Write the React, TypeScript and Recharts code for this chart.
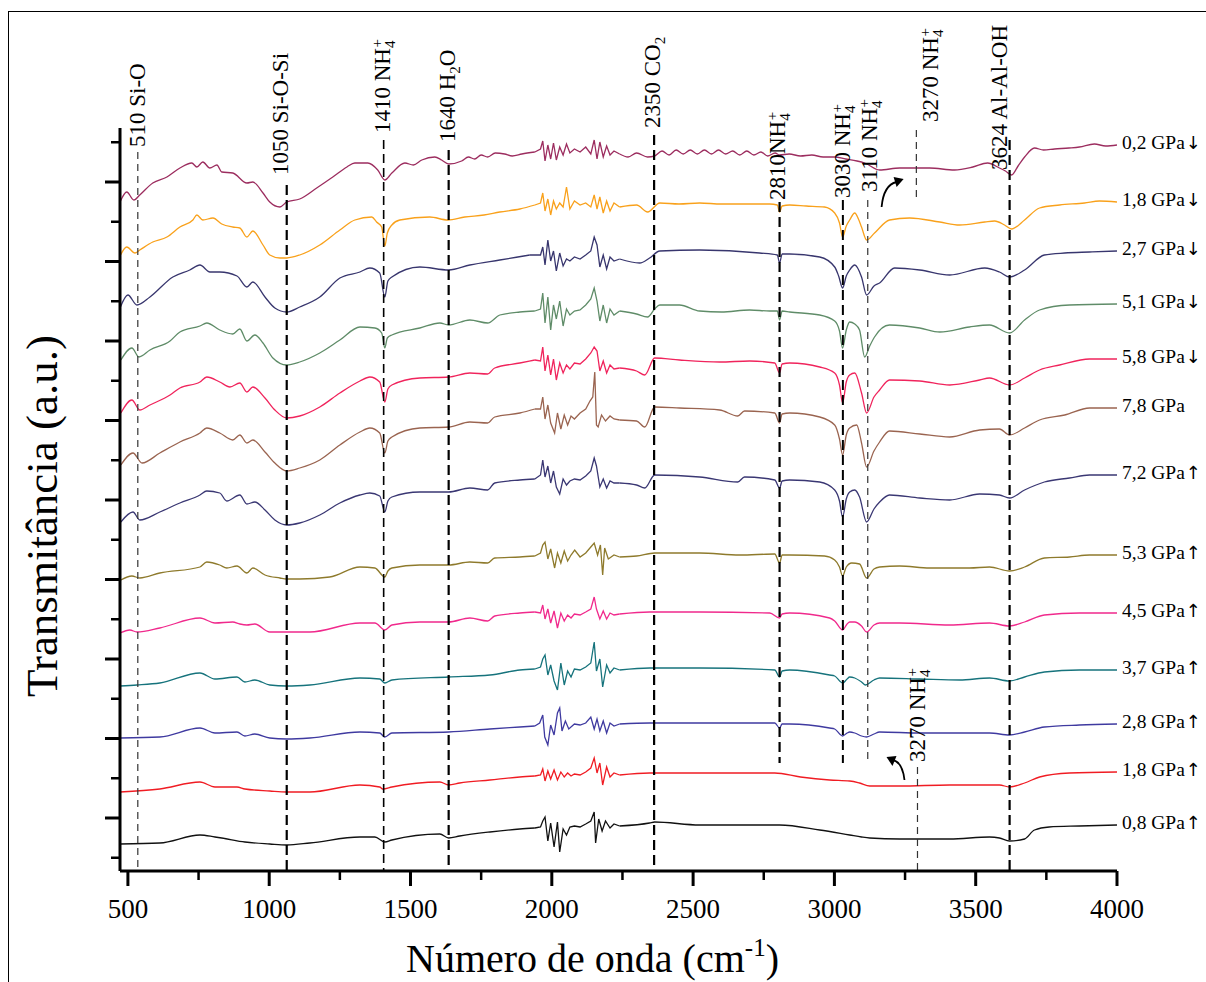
import React from 'react';
import { LineChart, Line, XAxis, YAxis, ReferenceLine, ReferenceDot } from 'recharts';

const FONT = 'Liberation Serif, Times New Roman, serif';

// [wavenumber cm-1, transmittance a.u. (stacked)]
const p02Down = [
  [472, 669], [496, 679], [521, 671], [542, 676], [588, 688], [638, 694], [684, 703], [726, 708], [744, 704], [765, 709],
  [790, 703], [815, 706], [832, 699], [871, 698], [921, 688], [942, 689], [978, 678], [1002, 669], [1038, 664], [1062, 669],
  [1108, 672], [1168, 683], [1225, 694], [1275, 704], [1303, 708], [1349, 708], [1384, 701], [1409, 691], [1434, 698], [1480, 708],
  [1510, 706], [1540, 711], [1586, 714], [1610, 711], [1635, 707], [1681, 710], [1705, 714], [1727, 712], [1750, 716], [1773, 714],
  [1800, 718], [1833, 717], [1860, 715], [1894, 717], [1940, 719],
  [1960, 722], [1968, 730], [1976, 710], [1986, 726], [1996, 712], [2006, 728], [2016, 711], [2028, 724], [2040, 716], [2052, 727],
  [2064, 718], [2080, 722], [2100, 719], [2120, 724], [2138, 717], [2150, 731], [2160, 712], [2170, 729], [2182, 714], [2194, 725],
  [2206, 716], [2220, 720],
  [2240, 717], [2270, 714], [2300, 718], [2339, 714], [2364, 715], [2390, 720], [2415, 716], [2440, 721], [2465, 717], [2490, 721],
  [2515, 717], [2540, 721], [2565, 717], [2590, 721], [2615, 717], [2640, 720], [2665, 716], [2690, 720], [2715, 716], [2740, 719],
  [2764, 715], [2790, 718], [2806, 716], [2840, 717], [2880, 715], [2920, 716], [2960, 714], [3000, 714], [3040, 712], [3080, 710],
  [3107, 708], [3160, 701], [3231, 703], [3290, 703], [3337, 703], [3425, 701], [3490, 704], [3542, 708], [3584, 703], [3605, 700],
  [3627, 696], [3650, 705], [3673, 714], [3708, 723], [3740, 721], [3779, 722], [3830, 723], [3867, 724], [3920, 727], [3960, 725],
  [4000, 726],
];

const p18Down = [
  [472, 615], [496, 624], [525, 618], [542, 621], [588, 629], [638, 634], [684, 644], [730, 651], [744, 656], [765, 651],
  [801, 653], [832, 647], [871, 644], [896, 643], [921, 634], [942, 640], [978, 626], [1002, 616], [1038, 613], [1062, 613],
  [1108, 616], [1179, 626], [1250, 641], [1303, 651], [1363, 654], [1380, 649], [1398, 644], [1409, 625], [1418, 638], [1434, 646],
  [1462, 651], [1568, 654], [1632, 651], [1692, 654], [1760, 656], [1816, 659], [1887, 662], [1940, 666],
  [1960, 668], [1968, 678], [1976, 660], [1986, 672], [1996, 656], [2006, 670], [2016, 662], [2028, 668], [2040, 664], [2052, 684],
  [2064, 662], [2080, 670], [2100, 666], [2120, 668], [2138, 664], [2150, 676], [2160, 662], [2170, 674], [2182, 658], [2194, 670],
  [2206, 660], [2220, 668],
  [2240, 664], [2300, 666], [2339, 659], [2382, 668], [2450, 667], [2523, 668], [2600, 667], [2700, 667], [2771, 667], [2798, 666],
  [2806, 659], [2815, 665], [2842, 666], [2900, 665], [2965, 664], [3001, 658], [3018, 648], [3029, 634], [3042, 645], [3054, 651],
  [3072, 658], [3085, 652], [3096, 644], [3114, 631], [3142, 638], [3195, 651], [3266, 653], [3373, 649], [3443, 646], [3532, 649],
  [3567, 650], [3602, 646], [3627, 642], [3673, 651], [3726, 663], [3797, 666], [3885, 668], [3938, 670], [4000, 669],
];

const p27Down = [
  [472, 563], [500, 576], [532, 566], [578, 574], [659, 594], [719, 601], [755, 606], [790, 599], [825, 599], [886, 595],
  [921, 584], [942, 589], [985, 574], [1020, 563], [1062, 559], [1108, 564], [1179, 574], [1250, 593], [1321, 599], [1356, 603],
  [1391, 598], [1409, 574], [1420, 590], [1434, 594], [1533, 604], [1635, 601], [1710, 606], [1816, 611], [1922, 616],
  [1960, 616], [1968, 624], [1976, 606], [1986, 631], [1996, 610], [2006, 620], [2016, 600], [2028, 618], [2040, 605], [2052, 612],
  [2064, 610], [2080, 614], [2100, 612], [2120, 616], [2138, 620], [2150, 634], [2160, 626], [2170, 604], [2182, 616], [2194, 602],
  [2206, 614], [2220, 610],
  [2240, 612], [2311, 608], [2346, 613], [2382, 620], [2523, 621], [2735, 618], [2798, 616], [2806, 608], [2815, 617], [2842, 617],
  [2948, 614], [3001, 604], [3015, 595], [3029, 583], [3042, 595], [3054, 601], [3072, 606], [3096, 594], [3114, 576], [3140, 585],
  [3160, 588], [3213, 603], [3302, 601], [3408, 596], [3532, 603], [3584, 599], [3620, 594], [3673, 601], [3743, 616], [3815, 618],
  [3903, 619], [4000, 620],
];

const p51Down = [
  [475, 511], [514, 523], [539, 514], [578, 521], [649, 530], [684, 539], [755, 545], [779, 548], [825, 541], [871, 537],
  [896, 542], [921, 530], [949, 536], [978, 528], [1013, 513], [1062, 506], [1108, 509], [1179, 518], [1250, 531], [1321, 544],
  [1374, 543], [1398, 538], [1409, 523], [1418, 533], [1434, 536], [1533, 543], [1604, 548], [1635, 546], [1710, 551], [1773, 548],
  [1816, 556], [1887, 559], [1940, 560],
  [1960, 562], [1968, 578], [1976, 548], [1986, 574], [1996, 541], [2006, 566], [2016, 552], [2028, 570], [2040, 545], [2052, 562],
  [2064, 556], [2080, 560], [2100, 561], [2120, 566], [2138, 572], [2150, 583], [2160, 570], [2170, 550], [2182, 566], [2194, 548],
  [2206, 562], [2220, 556],
  [2240, 560], [2300, 557], [2339, 554], [2364, 562], [2382, 566], [2452, 566], [2523, 560], [2600, 559], [2700, 561], [2771, 560],
  [2798, 560], [2806, 551], [2815, 560], [2842, 559], [2948, 556], [3001, 550], [3018, 540], [3029, 523], [3042, 541], [3054, 549],
  [3072, 547], [3089, 541], [3107, 514], [3125, 525], [3142, 534], [3195, 546], [3302, 543], [3373, 539], [3478, 544], [3549, 546],
  [3620, 538], [3673, 551], [3726, 561], [3832, 566], [4000, 567],
];

const p58Down = [
  [475, 458], [514, 471], [542, 461], [578, 466], [649, 476], [684, 483], [755, 489], [779, 494], [825, 489], [861, 484],
  [896, 488], [921, 479], [942, 484], [985, 473], [1020, 461], [1062, 453], [1108, 455], [1179, 464], [1250, 478], [1321, 490],
  [1356, 494], [1391, 489], [1409, 469], [1420, 482], [1434, 486], [1533, 493], [1635, 494], [1710, 498], [1773, 497], [1798, 503],
  [1887, 508], [1940, 511],
  [1960, 510], [1968, 524], [1976, 500], [1986, 516], [1996, 496], [2006, 512], [2016, 491], [2028, 508], [2040, 498], [2052, 506],
  [2064, 502], [2080, 508], [2100, 507], [2120, 512], [2138, 518], [2150, 524], [2160, 520], [2170, 500], [2182, 510], [2194, 498],
  [2206, 506], [2220, 502],
  [2240, 503], [2300, 500], [2329, 496], [2364, 513], [2452, 511], [2594, 509], [2700, 510], [2789, 508], [2806, 498], [2815, 507],
  [2842, 508], [2948, 504], [3001, 498], [3018, 486], [3029, 468], [3042, 489], [3054, 496], [3072, 498], [3096, 478], [3114, 458],
  [3140, 474], [3160, 481], [3195, 491], [3302, 490], [3408, 486], [3514, 491], [3549, 493], [3620, 486], [3673, 493], [3726, 501],
  [3797, 506], [3903, 512], [4000, 512],
];

const p78 = [
  [475, 406], [518, 418], [550, 408], [613, 418], [684, 429], [755, 438], [779, 443], [825, 438], [871, 431], [896, 436],
  [921, 428], [942, 431], [985, 419], [1020, 408], [1062, 400], [1108, 403], [1179, 411], [1250, 426], [1321, 439], [1356, 443],
  [1391, 438], [1409, 418], [1420, 430], [1434, 434], [1533, 443], [1635, 444], [1710, 449], [1773, 448], [1798, 454], [1887, 458],
  [1940, 462],
  [1960, 462], [1968, 474], [1976, 452], [1986, 466], [1996, 448], [2010, 438], [2020, 458], [2032, 442], [2044, 456], [2056, 446],
  [2068, 455], [2080, 452], [2100, 458], [2120, 462], [2135, 470], [2145, 474], [2152, 499], [2158, 446], [2164, 444], [2176, 456],
  [2190, 450], [2206, 455], [2220, 452],
  [2240, 451], [2300, 450], [2329, 444], [2364, 464], [2452, 463], [2594, 461], [2658, 455], [2682, 460], [2789, 458], [2806, 448],
  [2815, 457], [2842, 458], [2948, 454], [3001, 446], [3018, 432], [3029, 416], [3042, 436], [3054, 443], [3079, 446], [3096, 428],
  [3114, 404], [3140, 420], [3160, 429], [3195, 440], [3302, 437], [3408, 434], [3514, 441], [3584, 442], [3620, 436], [3673, 443],
  [3726, 451], [3815, 456], [3903, 463], [4000, 463],
];

const p72Up = [
  [475, 349], [518, 359], [542, 351], [613, 359], [684, 368], [755, 376], [779, 380], [825, 378], [850, 370], [896, 376],
  [921, 367], [949, 369], [985, 361], [1020, 351], [1062, 346], [1108, 348], [1179, 356], [1250, 368], [1321, 376], [1356, 378],
  [1391, 375], [1409, 359], [1420, 370], [1434, 374], [1533, 379], [1635, 379], [1710, 383], [1773, 381], [1798, 388], [1887, 391],
  [1940, 392],
  [1960, 396], [1968, 411], [1976, 394], [1986, 405], [1996, 388], [2006, 400], [2016, 384], [2028, 377], [2040, 392], [2052, 386],
  [2064, 390], [2080, 392], [2100, 391], [2120, 395], [2138, 400], [2150, 413], [2158, 405], [2170, 384], [2182, 392], [2194, 383],
  [2206, 390], [2220, 388],
  [2240, 388], [2300, 386], [2329, 383], [2364, 396], [2523, 394], [2658, 389], [2682, 394], [2789, 391], [2806, 383], [2815, 390],
  [2842, 391], [2948, 389], [3001, 381], [3018, 370], [3029, 354], [3042, 372], [3054, 379], [3072, 381], [3089, 374], [3114, 349],
  [3140, 362], [3160, 369], [3195, 376], [3302, 373], [3408, 371], [3514, 377], [3584, 376], [3620, 373], [3673, 381], [3743, 389],
  [3832, 393], [3903, 396], [4000, 396],
];

const p53Up = [
  [475, 291], [514, 295], [542, 293], [613, 298], [755, 304], [779, 309], [825, 306], [850, 303], [886, 305], [921, 298],
  [942, 303], [985, 296], [1038, 293], [1062, 292], [1108, 292], [1214, 294], [1321, 304], [1374, 303], [1409, 294], [1420, 300],
  [1434, 303], [1533, 306], [1635, 306], [1710, 309], [1773, 308], [1798, 313], [1887, 314], [1940, 315],
  [1960, 318], [1968, 326], [1976, 329], [1986, 312], [1996, 322], [2010, 303], [2020, 318], [2032, 308], [2044, 320], [2056, 310],
  [2068, 316], [2081, 321], [2100, 314], [2120, 318], [2138, 324], [2150, 328], [2162, 316], [2172, 326], [2180, 296], [2187, 323],
  [2200, 312], [2220, 316],
  [2240, 314], [2300, 315], [2364, 318], [2523, 318], [2665, 316], [2789, 317], [2806, 308], [2815, 316], [2842, 316], [2965, 315],
  [3001, 311], [3018, 304], [3029, 295], [3042, 304], [3061, 308], [3089, 307], [3114, 293], [3140, 302], [3160, 304], [3231, 305],
  [3337, 303], [3478, 303], [3549, 304], [3620, 300], [3673, 304], [3743, 313], [3832, 314], [3903, 316], [4000, 316],
];

const p45Up = [
  [472, 238], [507, 241], [532, 239], [613, 243], [755, 253], [808, 248], [871, 249], [896, 247], [921, 246], [949, 247],
  [1002, 239], [1062, 239], [1144, 239], [1321, 248], [1374, 248], [1409, 241], [1434, 246], [1533, 249], [1635, 249], [1710, 253],
  [1773, 250], [1798, 255], [1887, 258], [1940, 259],
  [1960, 258], [1968, 266], [1976, 252], [1986, 262], [1996, 248], [2008, 260], [2020, 243], [2032, 258], [2044, 250], [2056, 256],
  [2068, 253], [2080, 257], [2100, 256], [2120, 259], [2138, 262], [2150, 274], [2158, 262], [2170, 252], [2182, 260], [2194, 252],
  [2206, 258], [2220, 256],
  [2240, 257], [2346, 259], [2523, 259], [2771, 258], [2806, 253], [2815, 257], [2842, 258], [2983, 253], [3001, 250], [3029, 241],
  [3045, 247], [3054, 249], [3072, 249], [3096, 245], [3114, 239], [3140, 246], [3160, 248], [3231, 248], [3408, 246], [3549, 248],
  [3620, 245], [3673, 249], [3743, 256], [3867, 258], [4000, 258],
];

const p37Up = [
  [472, 185], [532, 186], [613, 188], [755, 198], [808, 192], [886, 194], [914, 189], [949, 191], [1002, 186], [1062, 185],
  [1144, 186], [1321, 193], [1391, 192], [1409, 188], [1434, 191], [1635, 194], [1781, 196], [1887, 201], [1940, 202],
  [1960, 204], [1968, 212], [1976, 216], [1986, 196], [1996, 206], [2008, 190], [2020, 181], [2032, 208], [2044, 186], [2056, 200],
  [2068, 194], [2080, 202], [2100, 201], [2120, 204], [2138, 208], [2150, 229], [2158, 200], [2170, 212], [2180, 184], [2194, 206],
  [2206, 198], [2220, 203],
  [2240, 201], [2346, 203], [2523, 203], [2789, 201], [2806, 194], [2815, 200], [2842, 201], [2983, 196], [3001, 195], [3029, 188],
  [3045, 192], [3054, 194], [3072, 193], [3096, 189], [3110, 186], [3140, 191], [3160, 193], [3302, 192], [3443, 191], [3549, 193],
  [3620, 190], [3673, 194], [3743, 199], [3867, 201], [4000, 201],
];

const p28Up = [
  [472, 133], [613, 134], [755, 143], [808, 138], [886, 139], [914, 135], [949, 137], [1002, 133], [1062, 132], [1144, 133],
  [1321, 139], [1391, 138], [1409, 134], [1434, 138], [1635, 139], [1781, 142], [1887, 144], [1940, 145],
  [1957, 148], [1968, 156], [1975, 134], [1986, 126], [1996, 146], [2008, 136], [2020, 158], [2028, 163], [2036, 140], [2048, 150],
  [2060, 142], [2080, 147], [2100, 146], [2120, 148], [2138, 154], [2150, 142], [2160, 152], [2170, 140], [2182, 150], [2194, 138],
  [2206, 148], [2220, 145],
  [2240, 147], [2346, 148], [2523, 148], [2789, 148], [2806, 143], [2815, 147], [2842, 147], [2983, 143], [3001, 142], [3029, 135],
  [3045, 138], [3054, 139], [3072, 138], [3096, 135], [3114, 134], [3140, 137], [3160, 139], [3302, 138], [3443, 138], [3549, 138],
  [3620, 136], [3673, 139], [3743, 144], [3867, 146], [4000, 147],
];

const p18Up = [
  [472, 79], [613, 82], [755, 89], [808, 84], [886, 84], [914, 82], [1002, 80], [1062, 79], [1144, 79], [1321, 86],
  [1391, 84], [1402, 82], [1434, 84], [1604, 89], [1635, 86], [1674, 88], [1781, 91], [1887, 94], [1940, 95],
  [1960, 96], [1968, 102], [1976, 90], [1986, 100], [1996, 92], [2008, 101], [2020, 91], [2032, 99], [2044, 94], [2056, 98],
  [2068, 95], [2080, 97], [2100, 96], [2120, 99], [2138, 103], [2150, 113], [2160, 98], [2170, 108], [2180, 86], [2194, 104],
  [2206, 94], [2220, 98],
  [2240, 96], [2346, 98], [2523, 98], [2789, 98], [2880, 94], [2983, 91], [3054, 90], [3089, 88], [3125, 85], [3231, 85],
  [3408, 86], [3584, 86], [3620, 84], [3673, 88], [3726, 94], [3832, 98], [4000, 99],
];

const p08Up = [
  [472, 27], [613, 28], [755, 36], [808, 34], [832, 33], [914, 29], [1002, 27], [1062, 26], [1144, 28], [1321, 34],
  [1374, 34], [1409, 29], [1434, 31], [1604, 37], [1635, 33], [1674, 35], [1781, 39], [1887, 42], [1940, 43],
  [1960, 44], [1968, 50], [1976, 54], [1986, 30], [1996, 48], [2008, 24], [2020, 49], [2028, 19], [2040, 42], [2052, 36],
  [2064, 44], [2080, 45], [2100, 44], [2120, 47], [2138, 50], [2150, 59], [2155, 28], [2166, 52], [2178, 40], [2190, 50],
  [2206, 43], [2220, 47],
  [2240, 45], [2346, 48], [2364, 49], [2523, 46], [2806, 46], [2948, 41], [3054, 36], [3096, 34], [3125, 33], [3231, 32],
  [3408, 32], [3549, 34], [3584, 33], [3620, 30], [3673, 32], [3708, 41], [3760, 44], [3867, 45], [4000, 46],
];

const spectra = [p02Down, p18Down, p27Down, p51Down, p58Down, p78, p72Up, p53Up, p45Up, p37Up, p28Up, p18Up, p08Up];
const pressures = ['0,2 GPa', '1,8 GPa', '2,7 GPa', '5,1 GPa', '5,8 GPa', '7,8 GPa', '7,2 GPa', '5,3 GPa', '4,5 GPa', '3,7 GPa', '2,8 GPa', '1,8 GPa', '0,8 GPa'];
const arrows = ['↓', '↓', '↓', '↓', '↓', '', '↑', '↑', '↑', '↑', '↑', '↑', '↑'];
const colors = ['#9c2d5f', '#f9a11b', '#38366e', '#5f8c68', '#f0245c', '#9a6450', '#3a3773', '#8e7a2c', '#f0298c', '#16737c', '#3f3aa0', '#f01c23', '#111111'];

const xMajorTicks = [500, 1000, 1500, 2000, 2500, 3000, 3500, 4000];
const xMinorTicks = [750, 1250, 1750, 2250, 2750, 3250, 3750];
const yMajorTicks = [53, 132.5, 212, 291.5, 371, 450.5, 530, 609.5, 689];
const yMinorTicks = [13.25, 92.75, 172.25, 251.75, 331.25, 410.75, 490.25, 569.75, 649.25, 728.75];

// noisy window (drawn with straight segments)
const noiseFrom = 1945;
const noiseTo = 2240;

// band marker lines: position, top, bottom (a.u.)
const bands = [
  { wn: 535, top: 719, bottom: 0, w: 1.2, dash: '7 5' },
  { wn: 1062, top: 686, bottom: 0, w: 2.2, dash: '10 5' },
  { wn: 1405, top: 731, bottom: 0, w: 1.6, dash: '9 5' },
  { wn: 1635, top: 721, bottom: 0, w: 2.2, dash: '10 5' },
  { wn: 2362, top: 736, bottom: 0, w: 2.2, dash: '10 5' },
  { wn: 2806, top: 669, bottom: 108, w: 2.2, dash: '10 5' },
  { wn: 3030, top: 671, bottom: 108, w: 2, dash: '10 5' },
  { wn: 3118, top: 671, bottom: 108, w: 1.2, dash: '7 5' },
  { wn: 3290, top: 741, bottom: 671, w: 1.2, dash: '7 5' },
  { wn: 3620, top: 731, bottom: 0, w: 2.2, dash: '10 5' },
  { wn: 3294, top: 104, bottom: 0, w: 1.2, dash: '7 5' },
];

type Part = [string, 'n' | 'sub' | 'sup'];
const bandLabels: { wn: number; at: number; parts: Part[] }[] = [
  { wn: 560, at: 724, parts: [['510 Si-O', 'n']] },
  { wn: 1066, at: 696, parts: [['1050 Si-O-Si', 'n']] },
  { wn: 1427, at: 738, parts: [['1410 NH', 'n'], ['4', 'sub'], ['+', 'sup']] },
  { wn: 1657, at: 729, parts: [['1640 H', 'n'], ['2', 'sub'], ['O', 'n']] },
  { wn: 2382, at: 743, parts: [['2350 CO', 'n'], ['2', 'sub']] },
  { wn: 2824, at: 671, parts: [['2810NH', 'n'], ['4', 'sub'], ['+', 'sup']] },
  { wn: 3054, at: 673, parts: [['3030 NH', 'n'], ['4', 'sub'], ['+', 'sup']] },
  { wn: 3149, at: 679, parts: [['3110 NH', 'n'], ['4', 'sub'], ['+', 'sup']] },
  { wn: 3365, at: 749, parts: [['3270 NH', 'n'], ['4', 'sub'], ['+', 'sup']] },
  { wn: 3609, at: 701, parts: [['3624 Al-Al-OH', 'n']] },
  { wn: 3319, at: 109, parts: [['3270 NH', 'n'], ['4', 'sub'], ['+', 'sup']] },
];

const shiftOf = { n: 0, sub: 5, sup: -8 };

const BandText = ({ cx, cy, parts }: any) => {
  let cur = 0;
  let prev = 'n';
  return (
    <text x={cx} y={cy} transform={`rotate(-90 ${cx} ${cy})`} fontFamily={FONT} fontSize={23} fill="#000">
      {parts.map(([t, k]: Part, i: number) => {
        const target = shiftOf[k];
        const dy = target - cur;
        const dx = k === 'sup' && prev === 'sub' ? -7 : 0;
        cur = target;
        prev = k;
        return (
          <tspan key={i} dy={dy} dx={dx} fontSize={k === 'n' ? 23 : 15}>
            {t}
          </tspan>
        );
      })}
    </text>
  );
};

const PressureText = ({ cx, cy, label, arrow }: any) => (
  <text x={cx + 5} y={cy + 4} fontFamily={FONT} fontSize={19.5} fill="#000">
    {label}
    {arrow ? (
      <tspan fontFamily="DejaVu Sans, sans-serif" fontSize={18} dx={1}>
        {arrow}
      </tspan>
    ) : null}
  </text>
);

const CurvedArrow = ({ cx, cy, flip }: any) => {
  if (!flip) {
    return (
      <g>
        <path d={`M${cx} ${cy} Q${cx + 2} ${cy - 22} ${cx + 15} ${cy - 25}`} fill="none" stroke="#000" strokeWidth={1.8} />
        <polygon points={`${cx + 22},${cy - 28} ${cx + 12},${cy - 30} ${cx + 15},${cy - 20}`} fill="#000" />
      </g>
    );
  }
  return (
    <g>
      <path d={`M${cx} ${cy} Q${cx - 2} ${cy - 18} ${cx - 12} ${cy - 20}`} fill="none" stroke="#000" strokeWidth={1.8} />
      <polygon points={`${cx - 18},${cy - 23} ${cx - 8},${cy - 24} ${cx - 12},${cy - 14}`} fill="#000" />
    </g>
  );
};

const xTitle = ({ viewBox }: any) => (
  <text x={viewBox.x + viewBox.width / 2 - 26} y={viewBox.y + 101} textAnchor="middle" fontFamily={FONT} fontSize={40} fill="#000">
    Número de onda (cm
    <tspan dy={-16} fontSize={25}>-1</tspan>
    <tspan dy={16}>)</tspan>
  </text>
);

const yTitle = ({ viewBox }: any) => {
  const x = viewBox.x - 62;
  const y = viewBox.y + 388;
  return (
    <text x={x} y={y} transform={`rotate(-90 ${x} ${y})`} textAnchor="middle" fontFamily={FONT} fontSize={45} fill="#000">
      Transmitância (a.u.)
    </text>
  );
};

const noTick = () => <g />;

const axisStroke = { stroke: '#000', strokeWidth: 3 };

// split a spectrum into smooth / noisy / smooth pieces sharing their joint points
const pieces = (pts: number[][]) => {
  let i0 = 0;
  pts.forEach((p, i) => {
    if (p[0] <= noiseFrom) i0 = i;
  });
  const i1 = pts.findIndex((p) => p[0] >= noiseTo);
  const toRows = (arr: number[][]) => arr.map(([x, y]) => ({ x, y }));
  return [
    { rows: toRows(pts.slice(0, i0 + 1)), curve: 'monotone' },
    { rows: toRows(pts.slice(i0, i1 + 1)), curve: 'linear' },
    { rows: toRows(pts.slice(i1)), curve: 'monotone' },
  ];
};

export default function App() {
  return (
    <div style={{ position: 'absolute', left: 0, top: 0, width: 1206, height: 982, overflow: 'hidden', background: '#fff' }}>
      <div style={{ position: 'absolute', left: 8, top: 11, width: 1400, height: 1200, border: '1.5px solid #000' }} />
      <div style={{ position: 'absolute', left: 0, top: 0 }}>
        <LineChart width={1206} height={982} margin={{ top: 128, right: 89, bottom: 109, left: 118 }}>
          <XAxis
            xAxisId="main"
            type="number"
            dataKey="x"
            domain={[472, 4000]}
            allowDataOverflow
            ticks={xMajorTicks}
            interval={0}
            height={1}
            tickSize={15}
            tickMargin={13}
            tick={{ fontSize: 27, fill: '#000', fontFamily: FONT }}
            axisLine={axisStroke}
            tickLine={axisStroke}
            label={xTitle}
          />
          <XAxis
            xAxisId="minor"
            type="number"
            dataKey="x"
            domain={[472, 4000]}
            allowDataOverflow
            ticks={xMinorTicks}
            interval={0}
            height={1}
            tickSize={8}
            tick={noTick}
            axisLine={false}
            tickLine={{ stroke: '#000', strokeWidth: 2.5 }}
          />
          <YAxis
            yAxisId="main"
            type="number"
            domain={[0, 743]}
            allowDataOverflow
            ticks={yMajorTicks}
            interval={0}
            width={1}
            tickSize={15}
            tick={noTick}
            axisLine={axisStroke}
            tickLine={axisStroke}
            label={yTitle}
          />
          <YAxis
            yAxisId="minor"
            type="number"
            domain={[0, 743]}
            allowDataOverflow
            ticks={yMinorTicks}
            interval={0}
            width={1}
            tickSize={8}
            tick={noTick}
            axisLine={false}
            tickLine={{ stroke: '#000', strokeWidth: 2.5 }}
          />

          {spectra.map((pts, i) =>
            pieces(pts).map((piece, j) => (
              <Line
                key={'s' + i + '-' + j}
                xAxisId="main"
                yAxisId="main"
                data={piece.rows}
                dataKey="y"
                type={piece.curve as any}
                stroke={colors[i]}
                strokeWidth={1.3}
                dot={false}
                activeDot={false}
                isAnimationActive={false}
              />
            ))
          )}

          {bands.map((b, i) => (
            <ReferenceLine
              key={'band' + i}
              xAxisId="main"
              yAxisId="main"
              segment={[{ x: b.wn, y: b.top }, { x: b.wn, y: b.bottom }]}
              stroke={b.w < 1.5 ? '#333' : '#000'}
              strokeWidth={b.w}
              strokeDasharray={b.dash}
              ifOverflow="visible"
            />
          ))}

          {bandLabels.map((l, i) => (
            <ReferenceDot
              key={'bl' + i}
              xAxisId="main"
              yAxisId="main"
              x={l.wn}
              y={l.at}
              r={0}
              ifOverflow="visible"
              shape={(p: any) => <BandText cx={p.cx} cy={p.cy} parts={l.parts} />}
            />
          ))}

          {spectra.map((pts, i) => (
            <ReferenceDot
              key={'pl' + i}
              xAxisId="main"
              yAxisId="main"
              x={pts[pts.length - 1][0]}
              y={pts[pts.length - 1][1]}
              r={0}
              ifOverflow="visible"
              shape={(p: any) => <PressureText cx={p.cx} cy={p.cy} label={pressures[i]} arrow={arrows[i]} />}
            />
          ))}

          <ReferenceDot xAxisId="main" yAxisId="main" x={3167} y={664} r={0} ifOverflow="visible" shape={(p: any) => <CurvedArrow cx={p.cx} cy={p.cy} />} />
          <ReferenceDot xAxisId="main" yAxisId="main" x={3248} y={91} r={0} ifOverflow="visible" shape={(p: any) => <CurvedArrow cx={p.cx} cy={p.cy} flip />} />
        </LineChart>
      </div>
    </div>
  );
}
